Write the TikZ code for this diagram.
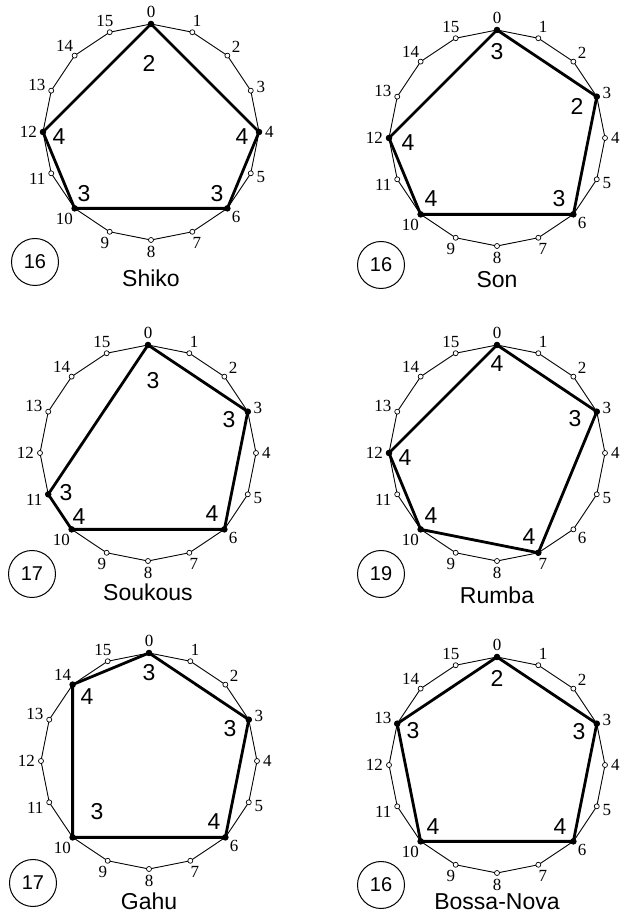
\documentclass[tikz,border=0pt]{standalone}
\usepackage{fontspec}
\setmainfont{Liberation Serif}
\setsansfont{Liberation Sans}
\tikzset{
  rimline/.style={line width=0.9pt},
  hitline/.style={line width=2.8pt,line join=round},
  beatdot/.style={circle,draw,fill=white,line width=0.7pt,inner sep=0pt,minimum size=5pt},
  onsetdot/.style={circle,fill=black,inner sep=0pt,minimum size=6.5pt},
  stepnum/.style={inner sep=0pt,font=\fontsize{17}{17}\selectfont},
  gapnum/.style={inner sep=0pt,font=\sffamily\fontsize{23}{23}\selectfont},
  sumcirc/.style={circle,draw,line width=1pt,minimum size=47pt,inner sep=0pt,
    font=\sffamily\fontsize{20}{20}\selectfont},
  rhythmname/.style={inner sep=0pt,font=\sffamily\fontsize{23}{23}\selectfont},
}

\begin{document}
\begin{tikzpicture}[x=1pt,y=1pt]
  \useasboundingbox (0,0) rectangle (620,915);
  \foreach \p/\cx/\cy/\on/\closing/\labs/\tot/\ty/\rname/\ny in {
    shiko/151/783/{0,4,6,10,12}/12/{-2/69/2,91/-5/4,66/-62/3,-67/-62/3,-92/-5/4}/16/130/Shiko/146,
    son/497/777/{0,3,6,10,12}/12/{0/86/3,80/32/2,62/-61/3,-66/-61/4,-89/-5/4}/16/127/Son/142,
    soukous/148/462/{0,3,6,10,11}/11/{5/72/3,81/33/3,64/-61/4,-69/-64/4,-82/-40/3}/17/121/Soukous/139,
    rumba/497/462/{0,3,7,10,12}/12/{0/89/4,78/34/3,32/-84/4,-66/-63/4,-92/-5/4}/19/121/Rumba/142,
    gahu/149/154/{0,3,6,10,14}/14/{0/88/3,81/32/3,65/-61/4,-52/-51/3,-62/64/4}/17/122/Gahu/140,
    bossa/497/150/{0,3,6,10,13}/13/{0/87/2,82/33/3,63/-62/4,-64/-62/4,-84/34/3}/16/120/Bossa-Nova/137%
  }{
    \begin{scope}[shift={(\cx,\cy)}]
      % sixteen pulses on the circle
      \foreach \k [evaluate=\k as \ang using 90-22.5*\k] in {0,...,15}
        \coordinate (\p-\k) at (\ang:108);
      \draw[rimline] (\p-0) foreach \k in {1,...,15}{ -- (\p-\k)} -- cycle;
      % rhythm polygon
      \draw[hitline] (\p-\closing) foreach \k in \on { -- (\p-\k)};
      \foreach \k [evaluate=\k as \ang using 90-22.5*\k,
                   evaluate=\k as \opp using 270-22.5*\k] in {0,...,15}{
        \node[beatdot] (\p-b\k) at (\p-\k) {};
        \node[stepnum,anchor=\opp] (\p-n\k) at (\ang:114) {\k};
      }
      \foreach \k in \on
        \node[onsetdot] (\p-d\k) at (\p-\k) {};
      \foreach \dx/\dy/\t [count=\i] in \labs
        \node[gapnum] (\p-g\i) at (\dx,\dy) {\t};
      \node[sumcirc] (\p-sum) at (-116,-\ty) {\tot};
      \node[rhythmname] (\p-name) at (0,-\ny) {\rname};
    \end{scope}
  }
\end{tikzpicture}
\end{document}
